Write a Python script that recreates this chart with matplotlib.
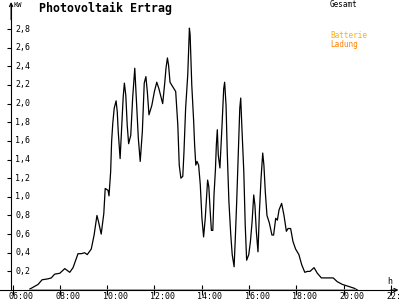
import matplotlib
matplotlib.use("Agg")
import matplotlib.pyplot as plt
from matplotlib.transforms import offset_copy

# Gesamt (kW) ueber Uhrzeit (h)
zeit = [6.73, 6.94, 7.08, 7.25, 7.50, 7.64, 7.78, 8.00, 8.21, 8.42, 8.56, 8.77,
        8.91, 9.05, 9.16, 9.33, 9.45, 9.57, 9.64, 9.75, 9.86, 9.92, 10.04, 10.08,
        10.15, 10.19, 10.24, 10.30, 10.38, 10.43, 10.47, 10.55, 10.62, 10.68,
        10.73, 10.79, 10.85, 10.91, 11.00, 11.08, 11.17, 11.25, 11.32, 11.40,
        11.49, 11.57, 11.64, 11.70, 11.77, 11.89, 12.00, 12.10, 12.19, 12.28,
        12.35, 12.44, 12.49, 12.55, 12.60, 12.66, 12.73, 12.83, 12.90, 12.99,
        13.05, 13.12, 13.20, 13.25, 13.32, 13.41, 13.48, 13.51, 13.58, 13.66,
        13.70, 13.75, 13.80, 13.87, 13.94, 14.01, 14.08, 14.15, 14.19, 14.25,
        14.30, 14.36, 14.41, 14.47, 14.52, 14.58, 14.62, 14.66, 14.70, 14.77,
        14.86, 14.93, 14.97, 15.03, 15.08, 15.15, 15.23, 15.29, 15.37, 15.42,
        15.48, 15.55, 15.61, 15.65, 15.70, 15.78, 15.84, 15.90, 15.99, 16.06,
        16.13, 16.20, 16.25, 16.31, 16.38, 16.44, 16.51, 16.58, 16.63, 16.69,
        16.76, 16.86, 16.97, 17.04, 17.13, 17.20, 17.27, 17.38, 17.48, 17.58,
        17.65, 17.76, 17.86, 17.97, 18.11, 18.23, 18.36, 18.47, 18.58, 18.75,
        18.89, 19.06, 19.31, 19.56, 19.73, 19.95, 20.19, 20.44, 20.58]
gesamt = [0.01, 0.04, 0.06, 0.11, 0.12, 0.13, 0.17, 0.18, 0.23, 0.19, 0.24, 0.39,
          0.39, 0.40, 0.38, 0.44, 0.59, 0.80, 0.73, 0.60, 0.82, 1.09, 1.07, 1.01,
          1.27, 1.59, 1.79, 1.95, 2.03, 1.91, 1.70, 1.41, 1.77, 2.07,
          2.22, 2.09, 1.77, 1.57, 1.66, 2.06, 2.38, 1.98, 1.63, 1.38,
          1.70, 2.22, 2.29, 2.13, 1.88, 1.98, 2.13, 2.23, 2.16, 2.07,
          2.00, 2.23, 2.38, 2.49, 2.41, 2.23, 2.20, 2.16, 2.13, 1.77,
          1.34, 1.20, 1.22, 1.48, 1.95, 2.31, 2.81, 2.74, 2.20, 1.81,
          1.56, 1.34, 1.38, 1.34, 1.13, 0.77, 0.57, 0.77, 0.93, 1.18,
          1.11, 0.84, 0.64, 0.64, 1.02, 1.29, 1.56, 1.72, 1.45, 1.31,
          1.77, 2.16, 2.23, 1.98, 1.48, 0.95, 0.59, 0.38, 0.25, 0.55,
          0.95, 1.48, 1.95, 2.06, 1.74, 1.27, 0.70, 0.32, 0.38, 0.52,
          0.73, 1.02, 0.91, 0.63, 0.41, 0.84, 1.20, 1.47, 1.34, 1.05,
          0.80, 0.72, 0.59, 0.59, 0.77, 0.75, 0.86, 0.93, 0.80, 0.63,
          0.66, 0.66, 0.52, 0.44, 0.38, 0.27, 0.19, 0.20, 0.20, 0.24,
          0.18, 0.13, 0.13, 0.13, 0.09, 0.06, 0.04, 0.02, 0.00]

# Batterie-Ladung (kW)
ladung_zeit = [6.74, 20.48]
ladung = [0.0, 0.0]

x_ticks = [6, 8, 10, 12, 14, 16, 18, 20, 22]
x_labels = ["06:00", "08:00", "10:00", "12:00", "14:00", "16:00", "18:00", "20:00", "22:00"]
y_ticks = [0.2, 0.4, 0.6, 0.8, 1.0, 1.2, 1.4, 1.6, 1.8, 2.0, 2.2, 2.4, 2.6, 2.8]
y_labels = ["0,2", "0,4", "0,6", "0,8", "1,0", "1,2", "1,4", "1,6", "1,8", "2,0",
            "2,2", "2,4", "2,6", "2,8"]

mono = "DejaVu Sans Mono"
orange = "#FF8000"

fig = plt.figure(figsize=(4, 3), dpi=100)
ax = fig.add_axes([0, 0, 1, 1])
ax.set_xlim(5.471, 22.385)
ax.set_ylim(-0.107, 3.112)

for s in ["top", "right"]:
    ax.spines[s].set_visible(False)
ax.spines["left"].set_position(("data", 5.94))
ax.spines["left"].set_bounds(0, 3.06)
ax.spines["bottom"].set_position(("data", 0))
ax.spines["bottom"].set_bounds(5.471, 22.2)
ax.spines["left"].set_linewidth(0.8)
ax.spines["bottom"].set_linewidth(0.8)

ax.set_xticks(x_ticks)
ax.set_yticks(y_ticks)
ax.set_xticklabels([])
ax.set_yticklabels([])
ax.tick_params(axis="x", direction="inout", length=7, width=0.8)
ax.tick_params(axis="y", direction="out", length=3, width=0.8)

# Pfeile
ax.annotate("", xy=(5.94, 3.09), xytext=(5.94, 2.9),
            arrowprops=dict(arrowstyle="->", lw=0.8, color="black",
                            mutation_scale=6, shrinkA=0, shrinkB=0))
ax.annotate("", xy=(22.32, 0), xytext=(22.0, 0),
            arrowprops=dict(arrowstyle="->", lw=0.8, color="black",
                            mutation_scale=6, shrinkA=0, shrinkB=0))

ax.plot(zeit, gesamt, color="black", lw=0.9)
ax.plot(ladung_zeit, ladung, color=orange, lw=1.2)

tr_x = offset_copy(ax.transData, fig=fig, x=8, y=-6, units="dots")
for t, lab in zip(x_ticks, x_labels):
    ax.text(t, 0, lab, transform=tr_x, fontsize=6, family=mono,
            ha="center", va="center", clip_on=False)

tr_y = offset_copy(ax.transData, fig=fig, x=4, y=0, units="dots")
for v, lab in zip(y_ticks, y_labels):
    ax.text(5.94, v, lab, transform=tr_y, fontsize=6, family=mono,
            ha="left", va="center")

fig.text(13 / 400, 1 - 5 / 300, "KW", fontsize=5, family=mono, ha="left", va="center")
fig.text(387 / 400, 1 - 281 / 300, "h", fontsize=6, family=mono, ha="left", va="center")
fig.text(39 / 400, 1 - 8 / 300, "Photovoltaik Ertrag", fontsize=8.4, family=mono,
         weight="bold", ha="left", va="center")
fig.text(330 / 400, 1 - 4.5 / 300, "Gesamt", fontsize=5.5, family=mono,
         ha="left", va="center", color="black")
fig.text(330 / 400, 1 - 36 / 300, "Batterie", fontsize=5.5, family=mono,
         ha="left", va="center", color="#FFB000")
fig.text(330 / 400, 1 - 44 / 300, "Ladung", fontsize=5.5, family=mono,
         ha="left", va="center", color=orange)

fig.savefig("out.png", dpi=100, facecolor="white")
